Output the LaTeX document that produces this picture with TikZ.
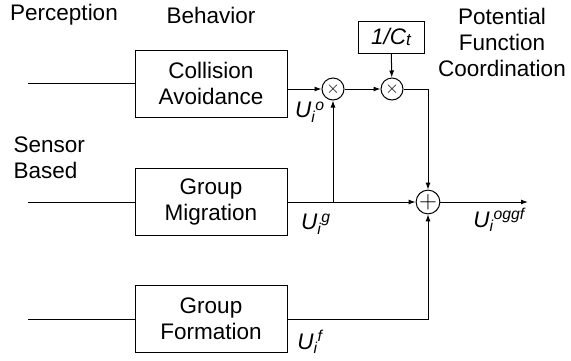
\documentclass[tikz,border=0pt]{standalone}
\usepackage{fontspec}
\setmainfont{Liberation Sans}
\usetikzlibrary{arrows.meta}

% signal names like U_i^o, written in italic text
\newcommand{\usig}[1]{{\itshape U\textsubscript{i}\textsuperscript{#1}}}

\begin{document}
\begin{tikzpicture}
[x=1pt,y=-1pt,line width=1pt,>={Latex[length=7pt,width=5pt]},
 every node/.style={font=\fontsize{22.5}{26}\selectfont},
 block/.style={draw,minimum width=152pt,minimum height=67pt,align=center,inner sep=0pt},
 gainbox/.style={draw,minimum width=66pt,minimum height=32pt,inner sep=0pt},
 junct/.style={draw,circle,minimum size=22pt,inner sep=0pt},
 txt/.style={inner sep=0pt,align=center}]

\useasboundingbox (0,0) rectangle (571,360);

% the coordinates of the blocks and junctions
\coordinate (C) at (211,83.5);
\coordinate (M) at (211,202);
\coordinate (F) at (211,319);
\coordinate (G) at (391,37);
\coordinate (X1) at (333,89);
\coordinate (X2) at (392,89);
\coordinate (S) at (428,202);

% the headings
\node[txt] (perc) at (64,15) {Perception};
\node[txt] (behav) at (211,15) {Behavior};
\node[txt] (coord) at (502,42) {Potential\\Function\\Coordination};
\node[txt,align=left,anchor=west] (sens) at (13,158) {Sensor\\Based};

% the blocks
\node[block] (coll) at (C) {Collision\\Avoidance};
\node[block] (mig) at (M) {Group\\Migration};
\node[block] (form) at (F) {Group\\Formation};
\node[gainbox] (ct) at (G) {\itshape 1/C\raisebox{-0.15ex}{\fontsize{17}{17}\selectfont t}};

% the junctions
\node[junct] (m1) at (X1) {\fontsize{19}{19}\selectfont$\times$};
\node[junct] (m2) at (X2) {\fontsize{19}{19}\selectfont$\times$};
\node[junct] (sum) at (S) {\fontsize{27}{27}\selectfont$+$};

% the inputs
\coordinate (in1) at (28,83.5);
\coordinate (in2) at (28,202);
\coordinate (in3) at (28,319);
\draw (in1) -- (coll);
\draw (in2) -- (mig);
\draw (in3) -- (form);

% the signal lines
\coordinate (out) at (528,202);
\draw[->] (coll.east |- m1) -- (m1);
\draw[->] (m1) -- (m2);
\draw[->] (ct) -- (m2);
\draw[->] (m2) -- (m2 -| sum) -- (sum);
\draw[->] (mig) -- (sum);
\draw[->] (m1 |- sum) -- (m1);
\draw[->] (form) -- (form -| sum) -- (sum);
\draw[->] (sum) -- (out);

% labelling the signals
\node[txt] (uo) at (310,112) {\usig{o}};
\node[txt] (ug) at (316,224) {\usig{g}};
\node[txt] (uf) at (310,342) {\usig{f}};
\node[txt] (uoggf) at (499,220) {\usig{oggf}};

\end{tikzpicture}
\end{document}
